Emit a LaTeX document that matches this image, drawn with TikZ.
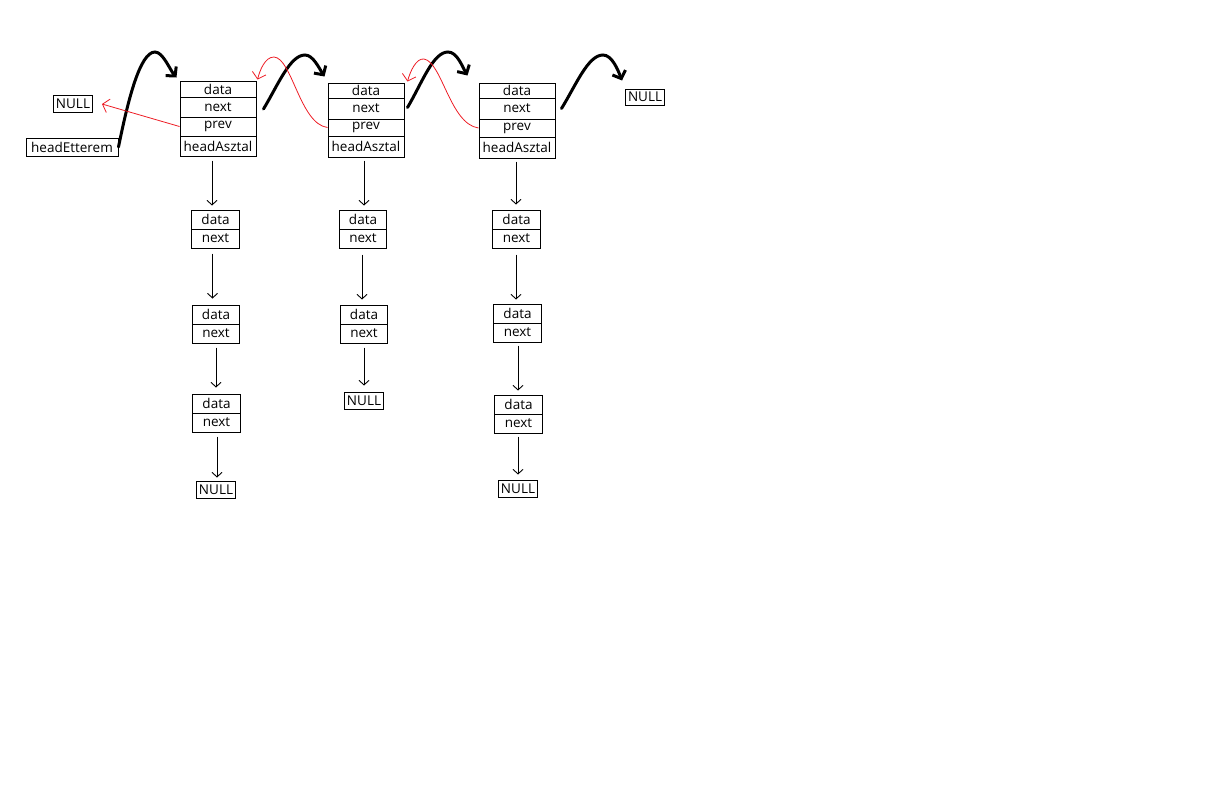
\documentclass[tikz,border=0pt]{standalone}
\usepackage{fontspec}
\setmainfont{Open Sans}
\usetikzlibrary{arrows.meta,calc}
\definecolor{paintred}{RGB}{237,28,36}
\begin{document}
\begin{tikzpicture}[x=1pt,y=-1pt,
  cell/.style={draw,line width=1pt,inner sep=0pt,font=\fontsize{13.5}{14}\selectfont},
  big/.style={cell,minimum width=76pt},
  small/.style={cell,minimum width=47.5pt,minimum height=19pt},
  nullbox/.style={cell,minimum width=39pt,minimum height=17pt},
  thin/.style={line width=0.9pt,-{Straight Barb[length=4.5pt,width=10pt]}},
  thick/.style={line width=3pt,line cap=round,-{Straight Barb[length=6.5pt,width=14pt,line width=3pt]}},
  redarr/.style={paintred,line width=0.8pt,-{Straight Barb[length=6pt,width=14pt]}}
]
\useasboundingbox (0,0) rectangle (1214,784);

% top-left nodes
\node[nullbox] (nullL) at (73,103.5) {NULL};
\node[cell,minimum width=92pt,minimum height=18pt] (he) at (72,147) {headEtterem};
\node[nullbox,minimum height=16pt] (nullR) at (645,97) {NULL};

% big box 1
\node[big,minimum height=16pt] (b1d) at (218,89) {data};
\node[big,minimum height=20pt] (b1n) at (218,107) {next};
\node[big,minimum height=19pt] (b1p) at (218,126.5) {prev};
\node[big,minimum height=20pt] (b1h) at (218,146) {headAsztal};
% big box 2
\node[big,minimum height=15pt] (b2d) at (366,90.5) {data};
\node[big,minimum height=21pt] (b2n) at (366,108.5) {next};
\node[big,minimum height=17pt] (b2p) at (366,127.5) {prev};
\node[big,minimum height=21pt] (b2h) at (366,146.5) {headAsztal};
% big box 3
\node[big,minimum height=15pt] (b3d) at (517,90.5) {data};
\node[big,minimum height=21pt] (b3n) at (517,108.5) {next};
\node[big,minimum height=18pt] (b3p) at (517,128) {prev};
\node[big,minimum height=21pt] (b3h) at (517,147.5) {headAsztal};

% column 1
\node[small] (s1d) at (215.5,219.5) {data};
\node[small] (s1n) at (215.5,238.5) {next};
\node[small] (s2d) at (216,314.5) {data};
\node[small] (s2n) at (216,333.5) {next};
\node[small] (s3d) at (216.5,403.5) {data};
\node[small] (s3n) at (216.5,422.5) {next};
\node[nullbox] (n1) at (216,489.5) {NULL};
% column 2
\node[small] (t1d) at (363,219.5) {data};
\node[small] (t1n) at (363,238.5) {next};
\node[small] (t2d) at (364,314.5) {data};
\node[small] (t2n) at (364,333.5) {next};
\node[nullbox] (n2) at (364,400.5) {NULL};
% column 3
\node[small] (u1d) at (516.5,219.5) {data};
\node[small] (u1n) at (516.5,238.5) {next};
\node[small] (u2d) at (517.5,313.5) {data};
\node[small] (u2n) at (517.5,332.5) {next};
\node[small] (u3d) at (518.5,404.5) {data};
\node[small] (u3n) at (518.5,423.5) {next};
\node[nullbox] (n3) at (518,488.5) {NULL};

% vertical arrows column 1
\draw[thin] ($(b1h.south)+(-6,4)$) -- ($(s1d.north)+(-3.5,-4)$);
\draw[thin] ($(s1n.south)+(-3,5)$) -- ($(s2d.north)+(-3.5,-6)$);
\draw[thin] ($(s2n.south)+(0,4)$) -- ($(s3d.north)+(-0.5,-6)$);
\draw[thin] ($(s3n.south)+(0.5,4)$) -- ($(n1.north)+(1,-3)$);
% column 2
\draw[thin] ($(b2h.south)+(-2,3)$) -- ($(t1d.north)+(1,-4)$);
\draw[thin] ($(t1n.south)+(-1,6)$) -- ($(t2d.north)+(-2,-5)$);
\draw[thin] ($(t2n.south)+(0,4)$) -- ($(n2.north)+(0,-6)$);
% column 3
\draw[thin] ($(b3h.south)+(-1,3)$) -- ($(u1d.north)+(-0.5,-5)$);
\draw[thin] ($(u1n.south)+(-0.5,6)$) -- ($(u2d.north)+(-1.5,-4)$);
\draw[thin] ($(u2n.south)+(0.5,3)$) -- ($(u3d.north)+(-0.5,-4)$);
\draw[thin] ($(u3n.south)+(-0.5,3)$) -- ($(n3.north)+(0,-5)$);

% thick next arrows
\draw[thick] ($(he.east)+(0,0)$) .. controls (128,100) and (140,52) .. (155,52)
  .. controls (163,52) and (170,70) .. ($(b1d.north west)+(-3,-3)$);
\draw[thick] ($(b1n.east)+(7,2)$) .. controls (278,85) and (290,55) .. (305,55)
  .. controls (313,55) and (319,68) .. ($(b2d.north west)+(-3,-6)$);
\draw[thick] ($(b2n.east)+(3,-1)$) .. controls (422,83) and (433,52) .. (448,52)
  .. controls (457,52) and (462,66) .. ($(b3d.north west)+(-11,-7)$);
\draw[thick] ($(b3n.east)+(6,0)$) .. controls (576,85) and (588,55) .. (603,55)
  .. controls (612,55) and (618,70) .. ($(nullR.north west)+(-3,-8)$);

% red prev arrows
\draw[redarr] (b1p.west) -- ($(nullL.east)+(9,0.5)$);
\draw[redarr] (b2p.west) .. controls (300,124) and (292,58) .. (274,57)
  .. controls (265,57) and (260,70) .. ($(b1d.north east)+(1,-1)$);
\draw[redarr] (b3p.west) .. controls (450,124) and (442,62) .. (424,59)
  .. controls (416,58) and (410,72) .. ($(b2d.north east)+(3,-1)$);
\end{tikzpicture}
\end{document}
